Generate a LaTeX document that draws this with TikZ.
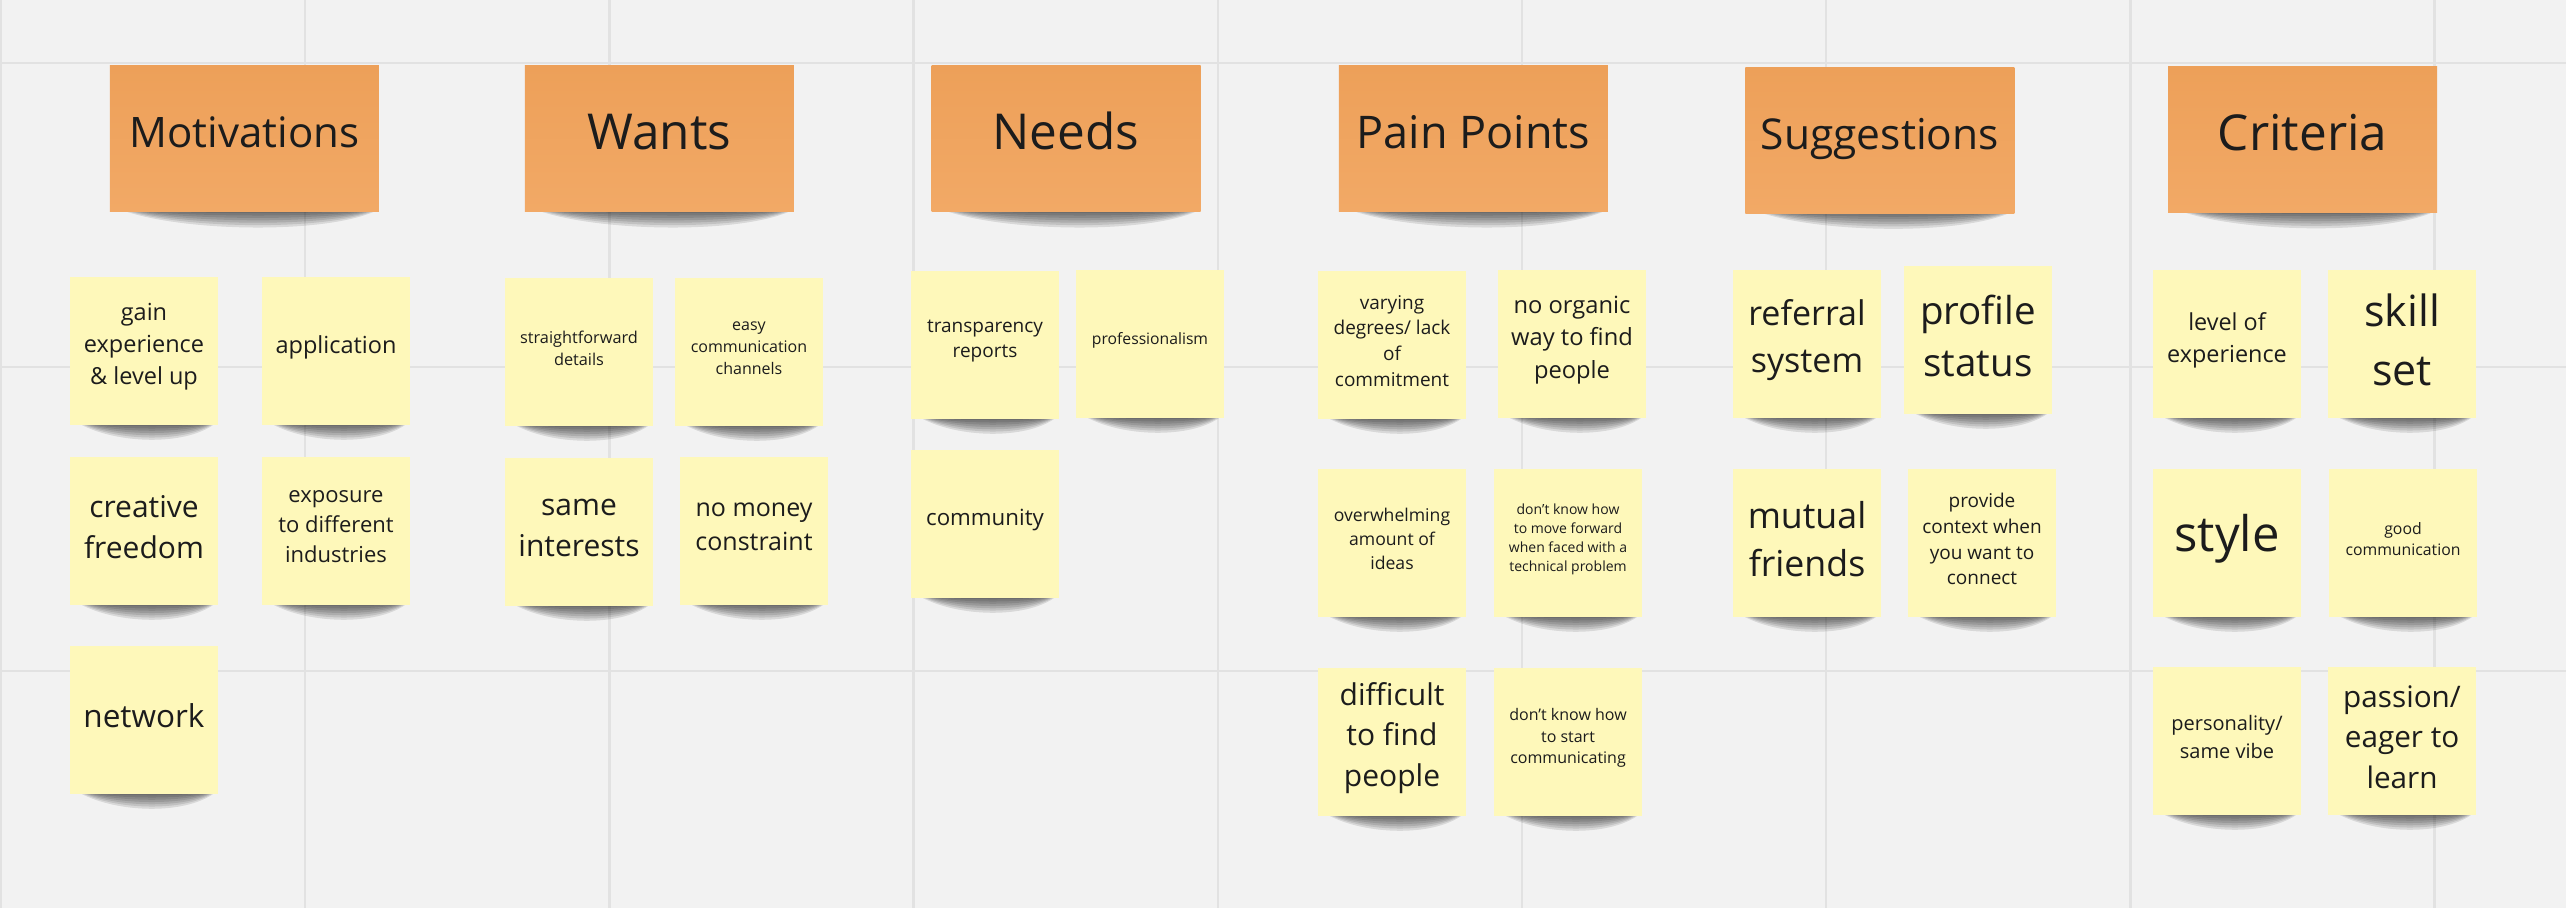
\documentclass[tikz,border=0pt]{standalone}
\usepackage{fontspec}
\setmainfont{Open Sans}

\definecolor{boardbg}{HTML}{F2F2F2}
\definecolor{gridline}{HTML}{E2E2E2}
\definecolor{headtop}{HTML}{EDA059}
\definecolor{headbot}{HTML}{F2A966}
\definecolor{notefill}{HTML}{FEF8BA}
\definecolor{ink}{HTML}{1C1C1C}

% category header sticky: name, x, y, font size, text
\newcommand{\headnote}[5]{%
  \foreach \k in {1,...,7}
    \fill[noteshadow] (#2-100-3*\k,#3+72) .. controls (#2-60,#3+72+3*\k) and (#2+80,#3+72+3.4*\k) .. (#2+118+2*\k,#3+72) -- cycle;
  \node[headbox] (#1) at (#2,#3) {};
  \pgfmathsetmacro\headht{0.76*#4}%
  \pgfmathsetmacro\headdp{0.24*#4}%
  \node[headtext, font=\fontsize{#4}{#4}\selectfont, text height=\headht pt, text depth=\headdp pt]
    (#1-t) at ([yshift=2pt]#1.center) {#5};
}
% idea sticky: name, x, y, font size, text
\newcommand{\ideanote}[5]{%
  \foreach \k in {1,...,7}
    \fill[noteshadow] (#2-50-2*\k,#3+73) .. controls (#2-28,#3+73+2.8*\k) and (#2+40,#3+73+3.2*\k) .. (#2+60+1.5*\k,#3+73) -- cycle;
  \node[ideabox] (#1) at (#2,#3) {};
  \pgfmathsetmacro\notelead{1.36*#4}%
  \node[ideatext, font=\fontsize{#4}{\notelead}\selectfont] (#1-t) at ([yshift=4pt]#1.center) {#5};
}

\begin{document}
\begin{tikzpicture}[x=1pt, y=-1pt,
  noteshadow/.style={fill=black, opacity=.105},
  headbox/.style={rectangle, inner sep=0pt, minimum width=269pt, minimum height=146pt,
    top color=headtop, bottom color=headbot},
  headtext/.style={inner sep=0pt, text=ink},
  ideabox/.style={rectangle, inner sep=0pt, minimum width=148pt, minimum height=148pt,
    fill=notefill},
  ideatext/.style={align=center, inner sep=0pt, text=ink},
  gridrule/.style={draw=gridline, line width=2.4pt}]

% board
\fill[boardbg] (0,0) rectangle (2566,908);
\useasboundingbox (0,0) rectangle (2566,908);
\foreach \gx in {0,...,8}
  \draw[gridrule] ({1+304.2*\gx},0) -- ({1+304.2*\gx},908);
\foreach \gy in {62.7,366.7,670.7}
  \draw[gridrule] (0,\gy) -- (2566,\gy);

% column headers
\headnote{motivations}{244.4}{138.7}{42}{Motivations}
\headnote{wants}{659.4}{138.7}{49.5}{Wants}
\headnote{needs}{1066}{138.7}{49.5}{Needs}
\headnote{painpoints}{1473.3}{138.7}{45}{Pain Points}
\headnote{suggestions}{1879.8}{140}{42.5}{Suggestions}
\headnote{criteria}{2302.6}{139.5}{49.5}{Criteria}

% Motivations
\ideanote{gain}{144}{351}{23.5}{gain\\experience\\\& level up}
\ideanote{application}{336}{351}{23.5}{application}
\ideanote{creative}{144}{531}{30}{creative\\freedom}
\ideanote{exposure}{336}{531}{22}{exposure\\to different\\industries}
\ideanote{network}{144}{720}{31.5}{network}

% Wants
\ideanote{details}{579}{352}{16.3}{straightforward\\details}
\ideanote{channels}{749}{352}{16}{easy\\communication\\channels}
\ideanote{interests}{579}{532}{30}{same\\interests}
\ideanote{money}{754}{531}{25}{no money\\constraint}

% Needs
\ideanote{transparency}{985}{345}{19}{transparency\\reports}
\ideanote{professionalism}{1150}{344}{15.7}{professionalism}
\ideanote{community}{985}{524}{22.3}{community}

% Pain Points
\ideanote{commitment}{1392}{345}{19}{varying\\degrees/ lack\\of\\commitment}
\ideanote{organic}{1572}{344}{23.7}{no organic\\way to find\\people}
\ideanote{ideas}{1392}{543}{17.6}{overwhelming\\amount of\\ideas}
\ideanote{forward}{1568}{543}{14}{don't know how\\to move forward\\when faced with a\\technical problem}
\ideanote{difficult}{1392}{742}{30}{difficult\\to find\\people}
\ideanote{start}{1568}{742}{16}{don't know how\\to start\\communicating}

% Suggestions
\ideanote{referral}{1807}{344}{34}{referral\\system}
\ideanote{profile}{1978}{340}{38.5}{profile\\status}
\ideanote{mutual}{1807}{543}{35.7}{mutual\\friends}
\ideanote{context}{1982}{543}{19}{provide\\context when\\you want to\\connect}

% Criteria
\ideanote{level}{2227}{344}{23.4}{level of\\experience}
\ideanote{skill}{2402}{344}{43}{skill\\set}
\ideanote{style}{2227}{543}{49}{style}
\ideanote{goodcomm}{2403}{543}{15.8}{good\\communication}
\ideanote{personality}{2227}{741}{20}{personality/\\same vibe}
\ideanote{passion}{2402}{741}{29.7}{passion/\\eager to\\learn}

\end{tikzpicture}
\end{document}
